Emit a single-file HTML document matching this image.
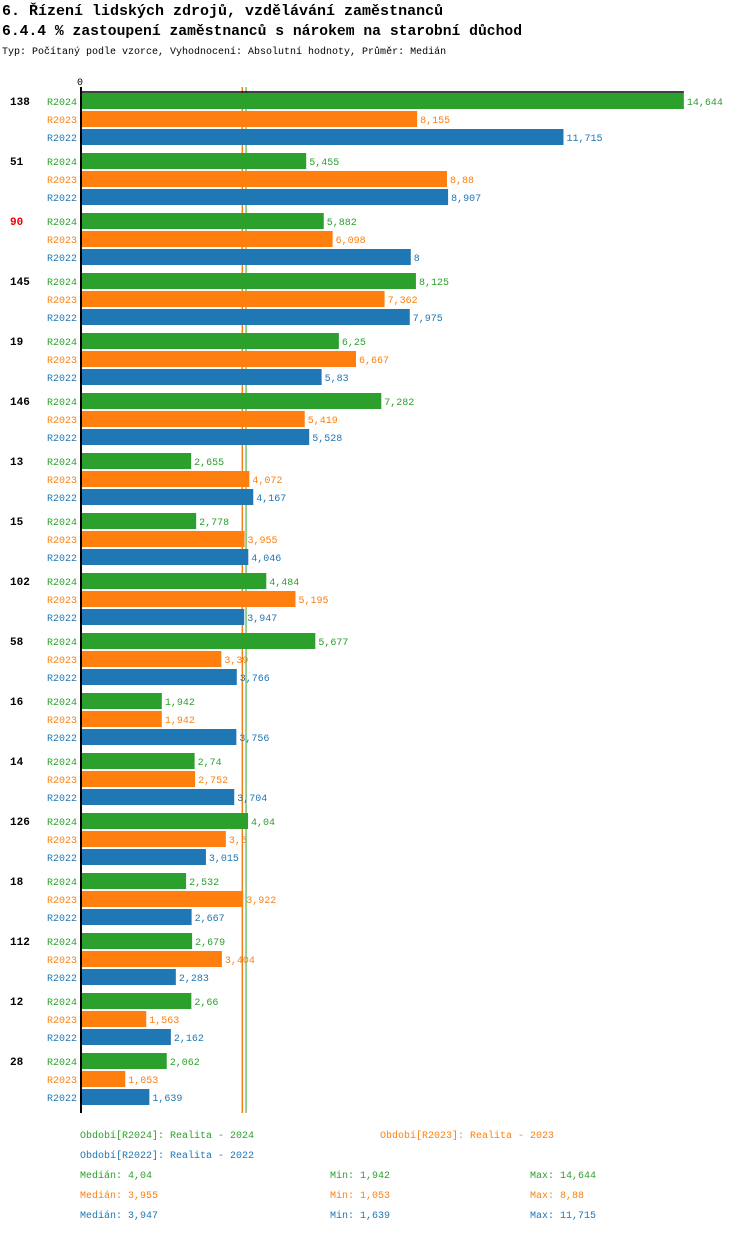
<!DOCTYPE html>
<html><head><meta charset="utf-8"><style>
body{margin:0;width:750px;height:1232px;background:#fff;overflow:hidden;font-family:"Liberation Mono",monospace}
svg text{font-family:"Liberation Mono",monospace}
</style></head><body>
<svg id="c" width="750" height="1232" xmlns="http://www.w3.org/2000/svg">
<text x="2" y="15" font-size="15" font-weight="bold">6. Řízení lidských zdrojů, vzdělávání zaměstnanců</text>
<text x="2" y="35" font-size="14.7" font-weight="bold">6.4.4 % zastoupení zaměstnanců s nárokem na starobní důchod</text>
<text x="2" y="54" font-size="10">Typ: Počítaný podle vzorce, Vyhodnocení: Absolutní hodnoty, Průměr: Medián</text>
<text x="80" y="85" font-size="10" text-anchor="middle">0</text>
<g id="g"></g>
<text x="80" y="1138" font-size="10" fill="#2ca02c">Období[R2024]: Realita - 2024</text>
<text x="380" y="1138" font-size="10" fill="#ff7f0e">Období[R2023]: Realita - 2023</text>
<text x="80" y="1158" font-size="10" fill="#1f77b4">Období[R2022]: Realita - 2022</text>
</svg>
<script>
const categories=["138","51","90","145","19","146","13","15","102","58","16","14","126","18","112","12","28"];
const r2024=[14.644,5.455,5.882,8.125,6.25,7.282,2.655,2.778,4.484,5.677,1.942,2.74,4.04,2.532,2.679,2.66,2.062];
const r2023=[8.155,8.88,6.098,7.362,6.667,5.419,4.072,3.955,5.195,3.39,1.942,2.752,3.5,3.922,3.404,1.563,1.053];
const r2022=[11.715,8.907,8,7.975,5.83,5.528,4.167,4.046,3.947,3.766,3.756,3.704,3.015,2.667,2.283,2.162,1.639];
const seriesNames=["R2024","R2023","R2022"];
const colors=["#2ca02c","#ff7f0e","#1f77b4"];
const medians=[4.04,3.955,3.947];
const mins=[1.942,1.053,1.639];
const maxs=[14.644,8.88,11.715];
const NS="http://www.w3.org/2000/svg";
const g=document.getElementById('g');
const x0=82,scale=41.1;
const xs=v=>x0+v*scale;
const fmt=v=>String(v).replace('.',',');
const fmtN=v=>v.toLocaleString('en-US',{maximumFractionDigits:3});
function el(t,a,txt){const e=document.createElementNS(NS,t);for(const k in a)e.setAttribute(k,a[k]);if(txt!=null)e.textContent=txt;g.appendChild(e);return e;}
const series=[r2024,r2023,r2022];
[2,1,0].forEach(j=>{
  const x=xs(medians[j])-2;
  const m=el('line',{x1:x,x2:x,y1:87,y2:1113,stroke:colors[j],'stroke-width':1});
  
  
});
categories.forEach((c,i)=>{
  const gy=92+i*60;
  const t=el('text',{x:10,y:gy+13,'font-size':11,'font-weight':'bold',fill:c==="90"?"#e00":"#000"},c);
  
  
  series.forEach((s,j)=>{
    const y=gy+1+j*18;
    const l=el('text',{x:77,y:y+12,'font-size':10,'text-anchor':'end',fill:colors[j]},seriesNames[j]);
    
    
    const r=el('rect',{x:x0,y:y,width:xs(s[i])-x0,height:16,fill:colors[j]});
    
    
    const v=el('text',{x:xs(s[i])+3,y:y+12,'font-size':10,fill:colors[j]},fmt(fmtN(s[i])));
    
    
  });
});
const ax=el('line',{x1:81,x2:81,y1:87,y2:1113,stroke:'#000','stroke-width':2});


const tx=el('line',{x1:80,x2:xs(Math.max(...r2024,...r2023,...r2022)),y1:92,y2:92,stroke:'#000','stroke-width':1.5});


medians.forEach((m,j)=>{
  const y=1178+j*20;
  [["Medián: "+fmt(m),80],["Min: "+fmt(mins[j]),330],["Max: "+fmt(fmtN(maxs[j])),530]].forEach(([s,x])=>{
    const t=el('text',{x:x,y:y,'font-size':10,fill:colors[j]},s);
    
    
  });
});
</script>
</body></html>
